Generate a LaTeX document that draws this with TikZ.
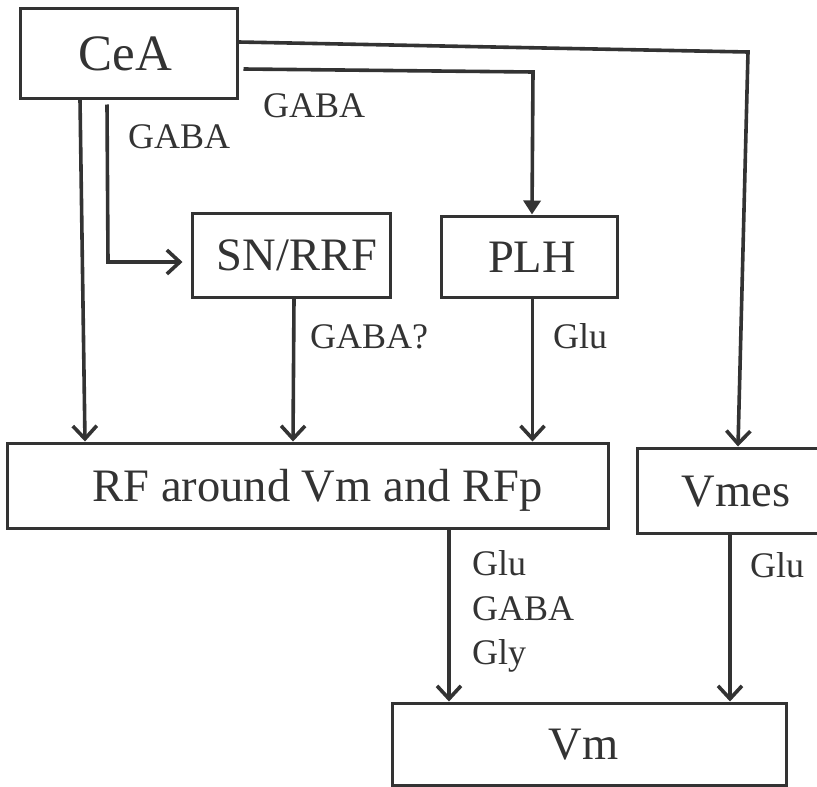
\documentclass[tikz,border=0pt]{standalone}
\usepackage{fontspec}
\setmainfont{Liberation Serif}
\usetikzlibrary{arrows.meta,calc}
\definecolor{ink}{HTML}{333333}
\begin{document}
\begin{tikzpicture}[x=1pt,y=-1pt,
  box/.style={draw=ink, line width=3pt, text=ink, inner sep=0pt, text height=31pt, text depth=0pt, font=\fontsize{46.5}{50}\selectfont},
  lbl/.style={text=ink, inner sep=0pt, anchor=base west, font=\fontsize{36}{40}\selectfont},
  arr/.style={draw=ink, line width=3.6pt, -{Straight Barb[length=13pt,width=24pt]}},
  farr/.style={draw=ink, line width=3.6pt, -{Triangle[length=14pt,width=17pt]}}]
\useasboundingbox (0,0) rectangle (817,787);
\clip (0,0) rectangle (817,787);
\node[box, minimum width=217pt, minimum height=90pt, text height=34pt, font=\fontsize{51}{55}\selectfont] (CeA) at (128.5,53) {CeA\hspace*{6pt}};
\node[box, minimum width=198pt, minimum height=84pt] (SN) at (291,255) {\hspace*{12pt}SN/RRF};
\node[box, minimum width=176pt, minimum height=81pt] (PLH) at (529,256.5) {\hspace*{6pt}PLH};
\node[box, minimum width=601pt, minimum height=85pt] (RF) at (307.5,485.5) {\hspace*{20pt}RF around Vm and RFp};
\node[box, minimum width=198pt, minimum height=85pt] (Vmes) at (736,490.5) {Vmes};
\node[box, minimum width=394pt, minimum height=82pt] (Vm) at (589,744) {Vm\hspace*{11pt}};
% connectors
\coordinate (k1) at (748,52);
\draw[arr] ([yshift=11pt]CeA.east) -- (k1) -- ([xshift=2pt]Vmes.north);
\coordinate (k2) at (533,72);
\draw[farr] ([xshift=5pt,yshift=-16pt]CeA.east) -- (k2) -- ([xshift=3pt]PLH.north);
\draw[arr] ([xshift=-48.5pt]CeA.south) -- ([xshift=-222.5pt]RF.north);
\coordinate (k3) at (108,262);
\draw[arr, shorten >=8pt] ([xshift=-21.5pt,yshift=-5pt]CeA.south) -- (k3) -- (SN.west |- k3);
\draw[arr] ([xshift=3pt]SN.south) -- ([xshift=-14.5pt]RF.north);
\draw[arr] ([xshift=3.5pt]PLH.south) -- ([xshift=225pt]RF.north);
\draw[arr] ([xshift=141.5pt]RF.south) -- ([xshift=-140pt]Vm.north);
\draw[arr] ([xshift=-6pt]Vmes.south) -- ([xshift=141pt]Vm.north);
% labels
\node[lbl] (l1) at (263,117) {GABA};
\node[lbl] (l2) at (128,148) {GABA};
\node[lbl] (l3) at (310,348) {GABA?};
\node[lbl] (l4) at (553,348) {Glu};
\node[lbl] (l5) at (472,575) {Glu};
\node[lbl] (l6) at (472,620) {GABA};
\node[lbl] (l7) at (472,664) {Gly};
\node[lbl] (l8) at (750,577) {Glu};
\end{tikzpicture}
\end{document}
